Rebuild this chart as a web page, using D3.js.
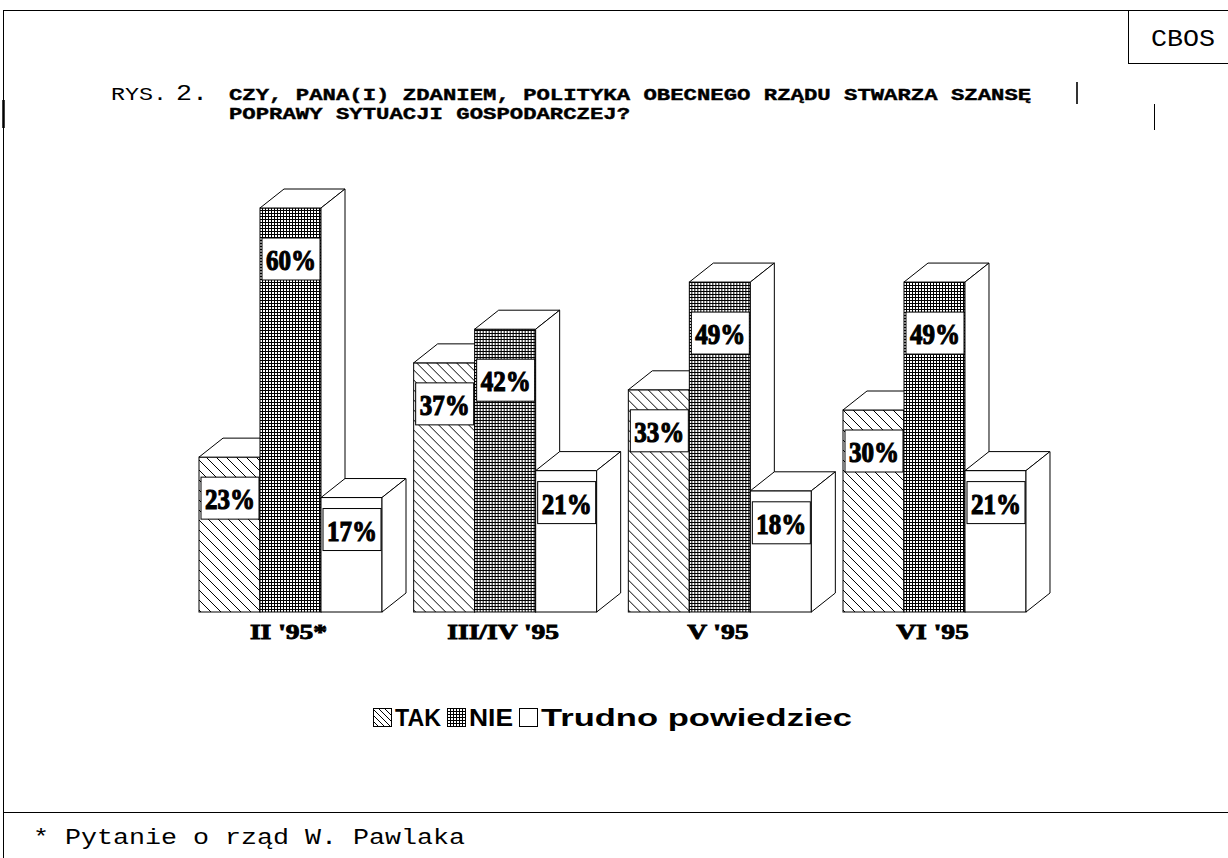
<!DOCTYPE html>
<html>
<head>
<meta charset="utf-8">
<script src="https://cdn.jsdelivr.net/npm/d3@7"></script>
<style>
body { margin: 0; background: #fff; }
svg { display: block; }
</style>
</head>
<body>
<div id="chart"></div>
<script>
// data
var categories = ["II '95*", "III/IV '95", "V '95", "VI '95"];
var seriesNames = ["TAK", "NIE", "Trudno powiedziec"];
var tak = [23, 37, 33, 30];
var nie = [60, 42, 49, 49];
var trudno = [17, 21, 18, 21];

var W = 1228, H = 858;
var depth = {dx: 24, dy: 19};
var fills = ["url(#hatch)", "url(#grid)", "#fff"];
var labelDrop = [20, 30, 11];      // how far the value box sits under the bar top
var legendWidths = [46, 44, 311];  // stretched widths of the legend words

var mono = "Courier New, Courier, Nimbus Mono PS, FreeMono, Liberation Mono, monospace";
var serif = "Liberation Serif, Times New Roman, serif";

var svg = d3.select("#chart").append("svg")
	.attr("width", W)
	.attr("height", H);

var defs = svg.append("defs");

var hatch = defs.append("pattern")
	.attr("id", "hatch")
	.attr("patternUnits", "userSpaceOnUse")
	.attr("width", 10).attr("height", 10);
hatch.append("rect").attr("width", 10).attr("height", 10).attr("fill", "#fff");
hatch.append("path")
	.attr("d", "M-1,-1L11,11M-6,4L6,16M4,-6L16,6")
	.attr("stroke", "#000").attr("stroke-width", 1);

var hatchSmall = defs.append("pattern")
	.attr("id", "hatchSmall")
	.attr("patternUnits", "userSpaceOnUse")
	.attr("width", 6).attr("height", 6);
hatchSmall.append("rect").attr("width", 6).attr("height", 6).attr("fill", "#fff");
hatchSmall.append("path")
	.attr("d", "M-1,-1L7,7M-4,2L4,10M2,-4L10,4")
	.attr("stroke", "#000").attr("stroke-width", 1);

var grid = defs.append("pattern")
	.attr("id", "grid")
	.attr("patternUnits", "userSpaceOnUse")
	.attr("width", 3).attr("height", 3);
grid.append("rect").attr("width", 3).attr("height", 3).attr("fill", "#fff");
grid.append("path")
	.attr("d", "M0,0.5H3M0.5,0V3")
	.attr("stroke", "#000").attr("stroke-width", 1);

// stretch a text element sideways by a factor (the scan is wider than tall)
function stretch(sel, k) {
	sel.each(function() {
		var w = this.getComputedTextLength();
		d3.select(this).attr("textLength", w * k).attr("lengthAdjust", "spacingAndGlyphs");
	});
}

// ---- page frame ----
var frame = svg.append("g").attr("stroke", "#000").attr("fill", "none");
frame.append("line").attr("x1", 3).attr("y1", 10.5).attr("x2", W).attr("y2", 10.5);
frame.append("line").attr("x1", 3.5).attr("y1", 10).attr("x2", 3.5).attr("y2", H);
frame.append("line").attr("x1", 3).attr("y1", 812.5).attr("x2", W).attr("y2", 812.5);
frame.append("rect").attr("x", 1128.5).attr("y", 10.5).attr("width", 110).attr("height", 53);
frame.append("line").attr("x1", 3.5).attr("y1", 100).attr("x2", 3.5).attr("y2", 128).attr("stroke-width", 2.5);
frame.append("line").attr("x1", 1077).attr("y1", 82).attr("x2", 1077).attr("y2", 104).attr("stroke-width", 1.6);
frame.append("line").attr("x1", 1154.5).attr("y1", 104).attr("x2", 1154.5).attr("y2", 130);

svg.append("text")
	.attr("x", 1151).attr("y", 46)
	.attr("font-family", mono)
	.attr("font-size", 24)
	.attr("textLength", 64).attr("lengthAdjust", "spacingAndGlyphs")
	.text("CBOS");

// ---- title ----
svg.append("text")
	.attr("x", 111).attr("y", 100)
	.attr("font-family", mono).attr("font-size", 18)
	.attr("textLength", 56).attr("lengthAdjust", "spacingAndGlyphs")
	.text("RYS.");
svg.append("text")
	.attr("x", 176).attr("y", 100)
	.attr("font-family", mono).attr("font-size", 22)
	.attr("textLength", 32).attr("lengthAdjust", "spacingAndGlyphs")
	.text("2.");

var titleLines = ["CZY, PANA(I) ZDANIEM, POLITYKA OBECNEGO RZĄDU STWARZA SZANSĘ",
	"POPRAWY SYTUACJI GOSPODARCZEJ?"];
svg.selectAll(".titleLine").data(titleLines).enter()
	.append("text")
	.attr("class", "titleLine")
	.attr("x", 229)
	.attr("y", function(d, i) { return 100 + i * 19; })
	.attr("font-family", mono).attr("font-weight", "bold").attr("font-size", 17)
	.attr("stroke", "#000").attr("stroke-width", 0.4)
	.attr("textLength", function(d) { return d.length * 13.37; })
	.attr("lengthAdjust", "spacingAndGlyphs")
	.text(function(d) { return d; });

// ---- bars ----
var x0 = d3.scaleBand().domain(categories).range([199, 1026]).paddingInner(0.1475).paddingOuter(0);
var x1 = d3.scaleBand().domain(seriesNames).range([0, x0.bandwidth()]);
var y = d3.scaleLinear().domain([0, 60]).range([612, 208]);

var values = [tak, nie, trudno];
var table = categories.map(function(c, ci) {
	return {cat: c, bars: seriesNames.map(function(s, si) {
		return {series: s, si: si, value: values[si][ci]};
	})};
});

var groups = svg.selectAll(".grp").data(table).enter()
	.append("g").attr("class", "grp")
	.attr("transform", function(d) { return "translate(" + x0(d.cat) + ",0)"; });

var bw = x1.bandwidth();
var bars = groups.selectAll(".bar").data(function(d) { return d.bars; }).enter()
	.append("g").attr("class", "bar")
	.attr("stroke", "#000").attr("stroke-width", 1).attr("stroke-linejoin", "miter");

bars.append("rect")
	.attr("x", function(d) { return x1(d.series); })
	.attr("y", function(d) { return y(d.value); })
	.attr("width", bw)
	.attr("height", function(d) { return y(0) - y(d.value); })
	.attr("fill", function(d) { return fills[d.si]; });

bars.append("path")
	.attr("fill", "#fff")
	.attr("d", function(d) {
		var l = x1(d.series), r = l + bw, t = y(d.value);
		return "M" + l + "," + t + "L" + (l + depth.dx) + "," + (t - depth.dy) +
			"L" + (r + depth.dx) + "," + (t - depth.dy) + "L" + r + "," + t + "Z";
	});

bars.append("path")
	.attr("fill", "#fff")
	.attr("d", function(d) {
		var r = x1(d.series) + bw, t = y(d.value), b = y(0);
		return "M" + r + "," + t + "L" + (r + depth.dx) + "," + (t - depth.dy) +
			"L" + (r + depth.dx) + "," + (b - depth.dy) + "L" + r + "," + b + "Z";
	});

// value boxes
var labels = groups.selectAll(".lab").data(function(d) { return d.bars; }).enter()
	.append("g").attr("class", "lab");

labels.append("rect")
	.attr("x", function(d) { return x1(d.series) + 2; })
	.attr("y", function(d) { return y(d.value) + labelDrop[d.si]; })
	.attr("width", 58).attr("height", 42)
	.attr("fill", "#fff").attr("stroke", "#000");

labels.append("text")
	.attr("x", function(d) { return x1(d.series) + 31; })
	.attr("y", function(d) { return y(d.value) + labelDrop[d.si] + 32; })
	.attr("text-anchor", "middle")
	.attr("font-family", serif)
	.attr("font-weight", "bold").attr("font-size", 30)
	.attr("stroke", "#000").attr("stroke-width", 1.2)
	.attr("textLength", 50).attr("lengthAdjust", "spacingAndGlyphs")
	.text(function(d) { return d.value + "%"; });

// category labels
groups.append("text")
	.attr("x", x0.bandwidth() / 2 - 2)
	.attr("y", 639)
	.attr("text-anchor", "middle")
	.attr("font-family", serif)
	.attr("font-weight", "bold").attr("font-size", 22)
	.attr("stroke", "#000").attr("stroke-width", 0.9)
	.text(function(d) { return d.cat; })
	.call(stretch, 1.25);

// ---- legend ----
var legendFills = ["url(#hatchSmall)", "url(#grid)", "#fff"];
var legend = svg.append("g").attr("class", "legend");
var lx = 373;
seriesNames.forEach(function(s, i) {
	legend.append("rect")
		.attr("x", lx + 0.5).attr("y", 708.5)
		.attr("width", 18).attr("height", 18)
		.attr("fill", legendFills[i]).attr("stroke", "#000");
	legend.append("text")
		.attr("x", lx + 22).attr("y", 726)
		.attr("font-family", "Liberation Sans, Arial, sans-serif")
		.attr("font-weight", "bold").attr("font-size", 23)
		.attr("textLength", legendWidths[i]).attr("lengthAdjust", "spacingAndGlyphs")
		.text(s);
	lx += 22 + legendWidths[i] + 6;
});

// ---- footnote ----
svg.append("text")
	.attr("x", 33).attr("y", 844)
	.attr("font-family", mono).attr("font-size", 22)
	.attr("textLength", 432).attr("lengthAdjust", "spacingAndGlyphs")
	.text("* Pytanie o rząd W. Pawlaka");
</script>
</body>
</html>
